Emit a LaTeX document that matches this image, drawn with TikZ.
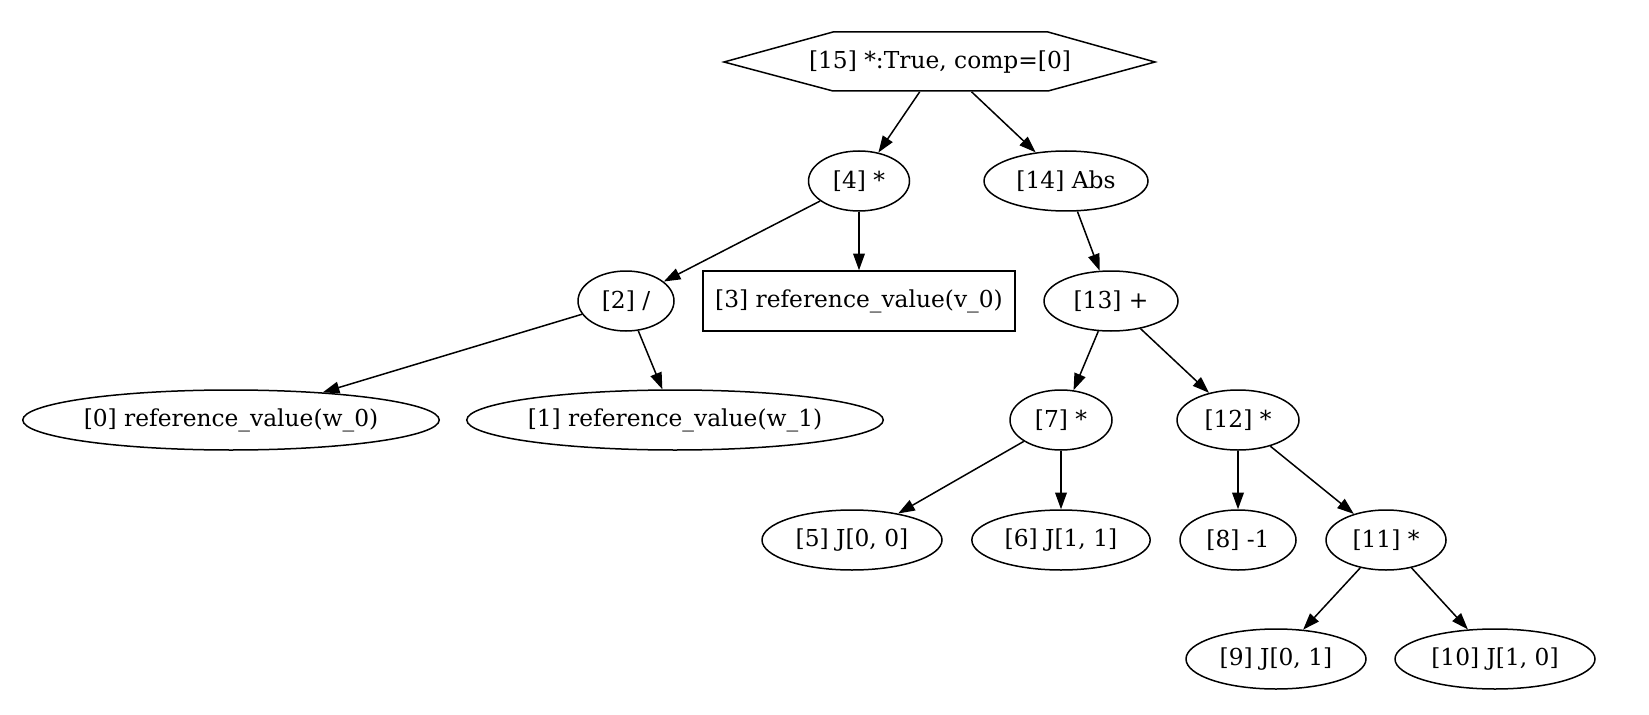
\documentclass[tikz,border=0pt]{standalone}
\usepackage{fontspec}
\setmainfont{DejaVu Serif}
\usetikzlibrary{shapes.geometric,arrows.meta}
\begin{document}
\begin{tikzpicture}[x=0.6pt,y=-0.6pt,
  lbl/.style={font=\fontsize{14}{16}\selectfont},
  el/.style={lbl,draw,ellipse,line width=0.9pt,inner sep=0pt,minimum height=36pt},
  bx/.style={lbl,draw,rectangle,line width=0.9pt,inner sep=0pt,minimum height=36pt},
  hx/.style={lbl,rectangle,inner sep=0pt,minimum height=35.4pt,minimum width=258.6pt},
  edge/.style={-{Triangle[length=10pt,width=7pt]},line width=0.9pt}]
\useasboundingbox (0,0) rectangle (1649,715);
\node[hx] (n15) at (940,62) {[15] *:True, comp=[0]};
\draw[line width=0.9pt] (n15.center) ++(-216,0) -- ++(109,-30) -- ++(215,0) -- ++(107,30) -- ++(-107,29) -- ++(-215,0) -- cycle;
\node[el,minimum width=60.6pt] (n4) at (859,181) {[4] *};
\node[el,minimum width=98.4pt] (n14) at (1066,181) {[14] Abs};
\node[el,minimum width=57.6pt] (n2) at (626,301) {[2] /};
\node[bx,minimum width=187.2pt] (n3) at (859,301) {[3] reference\_value(v\_0)};
\node[el,minimum width=80.4pt] (n13) at (1111,301) {[13] +};
\node[el,minimum width=248.4pt] (n0) at (231,420) {[0] reference\_value(w\_0)};
\node[el,minimum width=248.4pt] (n1) at (675,420) {[1] reference\_value(w\_1)};
\node[el,minimum width=61.2pt] (n7) at (1061,420) {[7] *};
\node[el,minimum width=73.2pt] (n12) at (1238,420) {[12] *};
\node[el,minimum width=108pt] (n5) at (852,540) {[5] J[0, 0]};
\node[el,minimum width=107pt] (n6) at (1061,540) {[6] J[1, 1]};
\node[el,minimum width=69.6pt] (n8) at (1238,540) {[8] -1};
\node[el,minimum width=72pt] (n11) at (1386,540) {[11] *};
\node[el,minimum width=108pt] (n9) at (1276,659) {[9] J[0, 1]};
\node[el,minimum width=120pt] (n10) at (1495,659) {[10] J[1, 0]};
\draw[edge] (n15) -- (n4);
\draw[edge] (n15) -- (n14);
\draw[edge] (n4) -- (n2);
\draw[edge] (n4) -- (n3);
\draw[edge] (n14) -- (n13);
\draw[edge] (n2) -- (n0);
\draw[edge] (n2) -- (n1);
\draw[edge] (n13) -- (n7);
\draw[edge] (n13) -- (n12);
\draw[edge] (n7) -- (n5);
\draw[edge] (n7) -- (n6);
\draw[edge] (n12) -- (n8);
\draw[edge] (n12) -- (n11);
\draw[edge] (n11) -- (n9);
\draw[edge] (n11) -- (n10);
\end{tikzpicture}
\end{document}
